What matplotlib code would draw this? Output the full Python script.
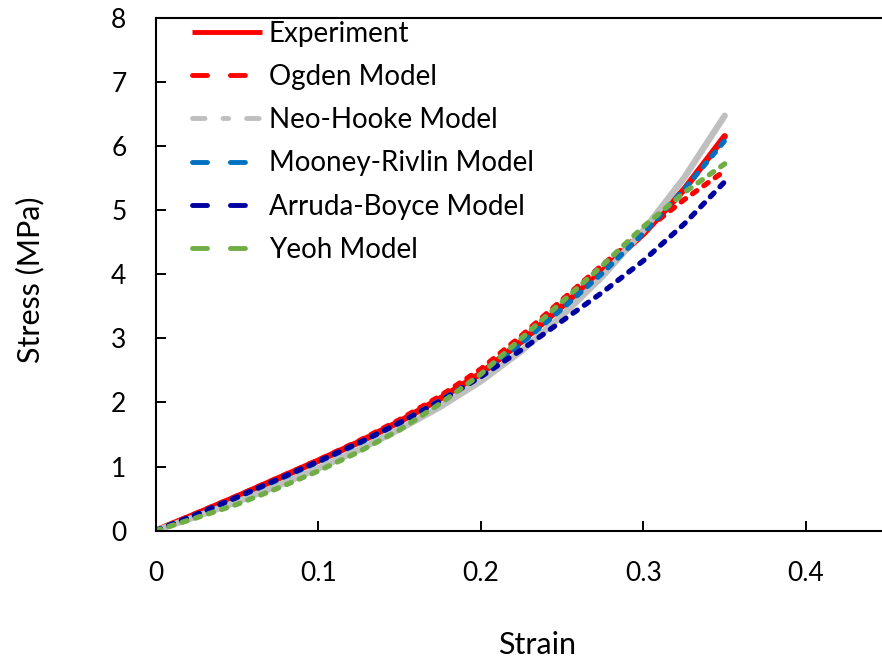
import matplotlib
matplotlib.use("Agg")
import matplotlib.pyplot as plt
from matplotlib.lines import Line2D

# Uniaxial stress-strain data: test curve and fitted hyperelastic models
strain = [0, 0.025, 0.05, 0.075, 0.1, 0.125, 0.15, 0.175, 0.2, 0.225, 0.25, 0.275, 0.3, 0.325, 0.35]

experiment = [0, 0.26, 0.53, 0.81, 1.09, 1.38, 1.70, 2.06, 2.45, 2.95, 3.50, 4.05, 4.63, 5.32, 6.15]
ogden = [0, 0.27, 0.54, 0.82, 1.10, 1.40, 1.73, 2.10, 2.52, 3.04, 3.60, 4.15, 4.66, 5.16, 5.61]
neo_hooke = [0, 0.22, 0.45, 0.70, 0.97, 1.26, 1.58, 1.93, 2.33, 2.80, 3.35, 3.97, 4.68, 5.50, 6.47]
mooney_rivlin = [0, 0.25, 0.52, 0.79, 1.07, 1.36, 1.68, 2.03, 2.40, 2.92, 3.46, 4.02, 4.64, 5.32, 6.08]
arruda_boyce = [0, 0.25, 0.52, 0.80, 1.08, 1.37, 1.68, 2.02, 2.40, 2.82, 3.27, 3.72, 4.21, 4.78, 5.44]
yeoh = [0, 0.20, 0.41, 0.66, 0.93, 1.23, 1.57, 1.98, 2.44, 3.00, 3.57, 4.14, 4.74, 5.27, 5.72]

x_ticks = [0, 0.1, 0.2, 0.3, 0.4]
x_tick_labels = ["0", "0.1", "0.2", "0.3", "0.4"]
y_ticks = [0, 1, 2, 3, 4, 5, 6, 7, 8]
y_tick_labels = ["0", "1", "2", "3", "4", "5", "6", "7", "8"]

plt.rcParams["font.family"] = ["Lato", "DejaVu Sans"]
plt.rcParams["lines.scale_dashes"] = False

fig = plt.figure(figsize=(8.82, 6.65), dpi=100)
# axes run a little past the right edge of the figure
ax = fig.add_axes([0.1764, 0.2020, 0.8296, 0.7715])

lw = 3.8
plot_dash = (0, (3.8, 6.2))

ax.plot(strain, experiment, color="#FF0000", lw=4.6, solid_capstyle="round")
ax.plot(strain, ogden, color="#FF0000", lw=lw, ls=plot_dash, dash_capstyle="round")
ax.plot(strain, neo_hooke, color="#BFBFBF", lw=4.6, solid_capstyle="round")
ax.plot(strain, mooney_rivlin, color="#0070C0", lw=lw, ls=plot_dash, dash_capstyle="round")
ax.plot(strain, arruda_boyce, color="#0000A0", lw=lw, ls=plot_dash, dash_capstyle="round")
ax.plot(strain, yeoh, color="#70AD47", lw=lw, ls=plot_dash, dash_capstyle="round")

ax.set_xlim(0, 0.45)
ax.set_ylim(0, 8)
ax.set_xticks(x_ticks, x_tick_labels)
ax.set_yticks(y_ticks, y_tick_labels)
ax.tick_params(axis="both", direction="in", length=7.5, width=1.4,
               labelsize=19, colors="black")
ax.tick_params(axis="x", pad=22)
ax.tick_params(axis="y", pad=21)
ax.tick_params(axis="y", which="both", right=False)
ax.tick_params(axis="x", which="both", top=False)
for side in ["left", "bottom", "top", "right"]:
    ax.spines[side].set_linewidth(1.5)
    ax.spines[side].set_color("black")

ax.set_xlabel("Strain", fontsize=22)
ax.set_ylabel("Stress (MPa)", fontsize=22)
ax.xaxis.set_label_coords(0.521, -0.196)
ax.yaxis.set_label_coords(-0.152, 0.489)

# legend keys use longer dashes than the plotted curves
key_lw = 3.5
key_dash = (0, (10.8, 16.5))
handles = [
    Line2D([], [], color="#FF0000", lw=key_lw, solid_capstyle="butt"),
    Line2D([], [], color="#FF0000", lw=key_lw, ls=key_dash, dash_capstyle="round"),
    Line2D([], [], color="#BFBFBF", lw=key_lw, ls=(0, (9, 13, 4, 13)), dash_capstyle="round"),
    Line2D([], [], color="#0070C0", lw=key_lw, ls=key_dash, dash_capstyle="round"),
    Line2D([], [], color="#0000A0", lw=key_lw, ls=key_dash, dash_capstyle="round"),
    Line2D([], [], color="#70AD47", lw=key_lw, ls=key_dash, dash_capstyle="round"),
]
labels = ["Experiment", "Ogden Model", "Neo-Hooke Model", "Mooney-Rivlin Model",
          "Arruda-Boyce Model", "Yeoh Model"]
ax.legend(handles, labels, loc="upper left", bbox_to_anchor=(0.0497, 0.994),
          frameon=False, fontsize=20, handlelength=2.52, handletextpad=0.25,
          labelspacing=0.62, borderpad=0, borderaxespad=0)

fig.savefig("out.png", dpi=100)
